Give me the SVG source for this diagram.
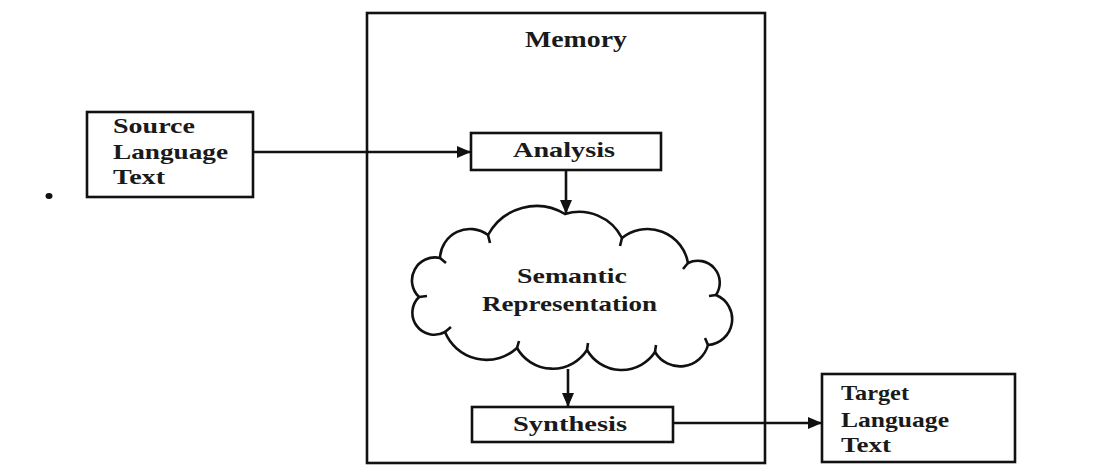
<svg xmlns="http://www.w3.org/2000/svg" width="1111" height="475" viewBox="0 0 1111 475">
<style>
.box{fill:none;stroke:#111;stroke-width:2.6}
.lbl{font-family:"Liberation Serif","Times New Roman",serif;font-weight:bold;fill:#1a1a1a}
.conn{stroke:#111;stroke-width:2.6;fill:none}
</style>
<defs>
<marker id="ah" viewBox="0 0 14 12" refX="14" refY="6" markerWidth="14" markerHeight="12" markerUnits="userSpaceOnUse" orient="auto">
<path d="M0,0 L14,6 L0,12 Z" fill="#111"/>
</marker>
</defs>
<rect width="1111" height="475" fill="#fff"/>
<g id="memory">
<rect class="box" x="367" y="13" width="398" height="450"/>
<text class="lbl" x="525" y="47" font-size="24" textLength="102" lengthAdjust="spacingAndGlyphs">Memory</text>
</g>
<g id="source">
<rect class="box" x="87" y="112" width="166" height="85"/>
<text class="lbl" font-size="22"><tspan x="113" y="133" textLength="82" lengthAdjust="spacingAndGlyphs">Source</tspan><tspan x="113" y="159" textLength="115" lengthAdjust="spacingAndGlyphs">Language</tspan><tspan x="113" y="184" textLength="52" lengthAdjust="spacingAndGlyphs">Text</tspan></text>
</g>
<g id="analysis">
<rect class="box" x="471" y="133" width="190" height="37"/>
<text class="lbl" x="513" y="157" font-size="21" textLength="102" lengthAdjust="spacingAndGlyphs">Analysis</text>
</g>
<g id="semantic">
<path class="box" d="M488 235 A55 55 0 0 1 565 214 A48 48 0 0 1 622 238 A41 41 0 0 1 688 263 A22 22 0 0 1 716 295 A26 26 0 0 1 708 345 A29 29 0 0 1 655 352 A40 40 0 0 1 587 350 A41 41 0 0 1 517 348 A45 45 0 0 1 445 332 A22 22 0 0 1 419 297 A23 23 0 0 1 440 258 A30 30 0 0 1 488 235 Z"/>
<path class="box" d="M488 235 L490 243 M622 238 L620 246 M688 263 L683 269 M716 295 L709 296 M708 345 L705 338 M655 352 L656 345 M587 350 L588 343 M517 348 L519 341 M445 332 L451 327 M419 297 L427 296 M440 258 L446 263"/>
<text class="lbl" x="517" y="283" font-size="21" textLength="110" lengthAdjust="spacingAndGlyphs">Semantic</text>
<text class="lbl" x="482" y="311" font-size="21" textLength="175" lengthAdjust="spacingAndGlyphs">Representation</text>
</g>
<g id="synthesis">
<rect class="box" x="472" y="407" width="201" height="35"/>
<text class="lbl" x="513" y="431" font-size="21" textLength="114" lengthAdjust="spacingAndGlyphs">Synthesis</text>
</g>
<g id="target">
<rect class="box" x="822" y="374" width="193" height="88"/>
<text class="lbl" font-size="22"><tspan x="841" y="400" textLength="68" lengthAdjust="spacingAndGlyphs">Target</tspan><tspan x="841" y="427" textLength="108" lengthAdjust="spacingAndGlyphs">Language</tspan><tspan x="841" y="452" textLength="50" lengthAdjust="spacingAndGlyphs">Text</tspan></text>
</g>
<g id="connectors">
<line class="conn" x1="253" y1="152" x2="471" y2="152" marker-end="url(#ah)"/>
<line class="conn" x1="566" y1="170" x2="566" y2="214" marker-end="url(#ah)"/>
<line class="conn" x1="568" y1="369" x2="568" y2="407" marker-end="url(#ah)"/>
<line class="conn" x1="673" y1="423" x2="822" y2="423" marker-end="url(#ah)"/>
</g>
<ellipse cx="49" cy="196" rx="3.5" ry="3" fill="#111"/>
</svg>
